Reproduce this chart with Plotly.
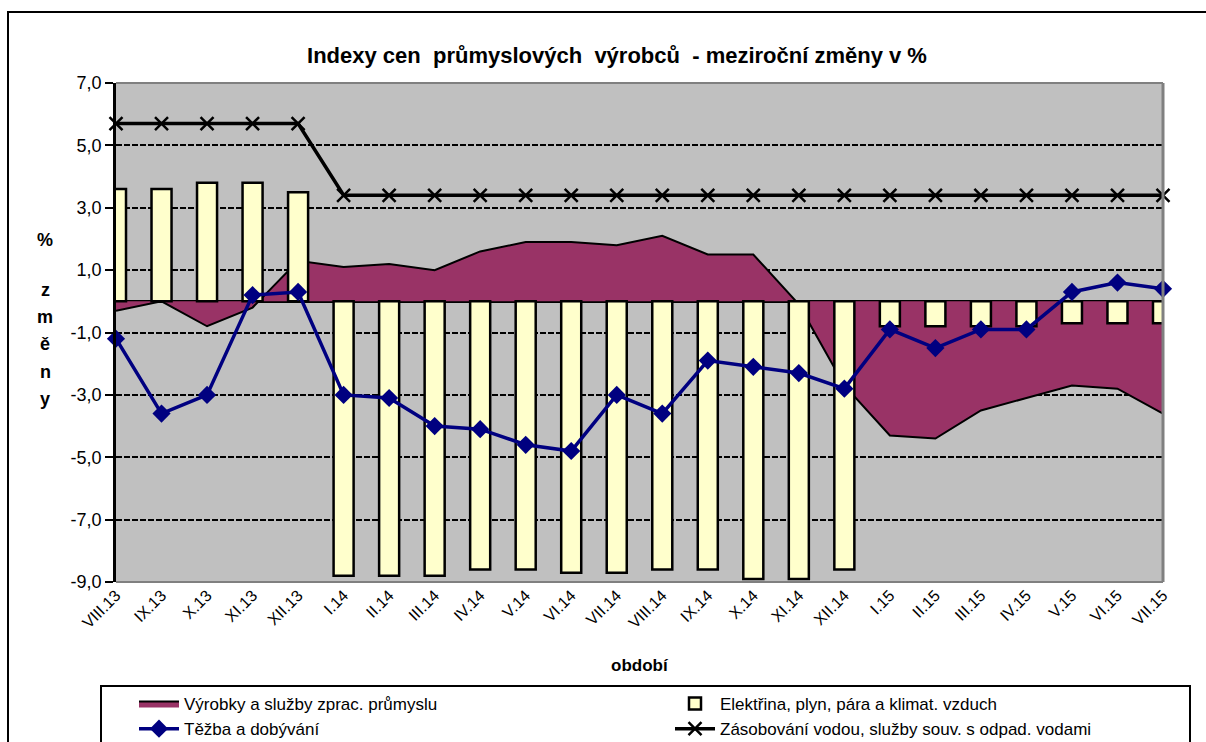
import plotly.graph_objects as go

categories = ["VIII.13", "IX.13", "X.13", "XI.13", "XII.13", "I.14", "II.14", "III.14",
              "IV.14", "V.14", "VI.14", "VII.14", "VIII.14", "IX.14", "X.14", "XI.14",
              "XII.14", "I.15", "II.15", "III.15", "IV.15", "V.15", "VI.15", "VII.15"]
vyrobky = [-0.3, 0.0, -0.8, -0.2, 1.3, 1.1, 1.2, 1.0, 1.6, 1.9, 1.9, 1.8, 2.1, 1.5, 1.5, -0.1,
           -2.7, -4.3, -4.4, -3.5, -3.1, -2.7, -2.8, -3.6]
elektrina = [3.6, 3.6, 3.8, 3.8, 3.5, -8.8, -8.8, -8.8, -8.6, -8.6, -8.7, -8.7, -8.6, -8.6, -8.9,
             -8.9, -8.6, -0.8, -0.8, -0.8, -0.8, -0.7, -0.7, -0.7]
tezba = [-1.2, -3.6, -3.0, 0.2, 0.3, -3.0, -3.1, -4.0, -4.1, -4.6, -4.8, -3.0, -3.6, -1.9, -2.1,
         -2.3, -2.8, -0.9, -1.5, -0.9, -0.9, 0.3, 0.6, 0.4]
voda = [5.7, 5.7, 5.7, 5.7, 5.7, 3.4, 3.4, 3.4, 3.4, 3.4, 3.4, 3.4, 3.4, 3.4, 3.4, 3.4,
        3.4, 3.4, 3.4, 3.4, 3.4, 3.4, 3.4, 3.4]
ytick_vals = [7, 5, 3, 1, -1, -3, -5, -7, -9]
ytick_text = ["7,0", "5,0", "3,0", "1,0", "-1,0", "-3,0", "-5,0", "-7,0", "-9,0"]

names = ["Výrobky a služby zprac. průmyslu", "Elektřina, plyn, pára a klimat. vzduch",
         "Těžba a dobývání", "Zásobování vodou, služby souv. s odpad. vodami"]

W, H = 1206, 742
L, R, T, B = 116, 1163, 83, 582
PW, PH = R - L, B - T


def px(x):
    return (x - L) / PW


def py(y):
    return (B - y) / PH


FONT = "Liberation Sans, Arial, sans-serif"
PURPLE = "#993366"
YELLOW = "#FFFFCC"
NAVY = "#000080"

fig = go.Figure()
fig.add_trace(go.Scatter(x=categories, y=vyrobky, name=names[0], mode="lines",
                         fill="tozeroy", fillcolor=PURPLE,
                         line=dict(color="black", width=2), xaxis="x", yaxis="y",
                         legend="legend"))
fig.add_trace(go.Bar(x=categories, y=elektrina, name=names[1], width=0.44,
                     marker=dict(color=YELLOW, line=dict(color="black", width=2.5)),
                     xaxis="x2", yaxis="y", legend="legend2"))
fig.add_trace(go.Scatter(x=categories, y=tezba, name=names[2], mode="lines+markers",
                         line=dict(color=NAVY, width=3.5),
                         marker=dict(symbol="diamond", size=14, color=NAVY),
                         cliponaxis=False, xaxis="x2", yaxis="y", legend="legend"))
fig.add_trace(go.Scatter(x=categories, y=voda, name=names[3], mode="lines+markers",
                         line=dict(color="black", width=3.5),
                         marker=dict(symbol="x-thin", size=13, color="black",
                                     line=dict(color="black", width=2.5)),
                         cliponaxis=False, xaxis="x2", yaxis="y", legend="legend2"))

shapes = [
    dict(type="line", xref="paper", yref="paper", x0=0, x1=1, y0=1, y1=1,
         line=dict(color="#808080", width=2), layer="above"),
    dict(type="line", xref="paper", yref="paper", x0=1, x1=1, y0=0, y1=1,
         line=dict(color="#808080", width=3), layer="above"),
    dict(type="line", xref="paper", yref="paper", x0=0, x1=1, y0=0, y1=0,
         line=dict(color="#808080", width=2), layer="above"),
    dict(type="rect", xref="paper", yref="paper", x0=px(8), x1=px(1230), y0=py(770), y1=py(12),
         line=dict(color="black", width=2), layer="above"),
    dict(type="rect", xref="paper", yref="paper", x0=px(101), x1=px(1190), y0=py(770), y1=py(686),
         line=dict(color="black", width=2), layer="above"),
]

annotations = [
    dict(text="období", xref="paper", yref="paper", x=px(640), y=py(665), showarrow=False,
         font=dict(family=FONT, size=17, color="black", weight="bold"),
         xanchor="center", yanchor="middle"),
]
for ch, yy in zip(["%", "z", "m", "ě", "n", "y"], [240, 290, 317, 344, 372, 399]):
    annotations.append(dict(text=ch, xref="paper", yref="paper", x=px(45), y=py(yy),
                            showarrow=False, xanchor="center", yanchor="middle",
                            font=dict(family=FONT, size=18, color="black", weight="bold")))

legend_common = dict(orientation="v", yanchor="top", xanchor="left", itemwidth=40,
                     font=dict(family=FONT, size=17, color="black"),
                     bgcolor="rgba(0,0,0,0)", traceorder="normal",
                     xref="container", yref="container")

fig.update_layout(
    width=W, height=H,
    margin=dict(l=L, r=W - R, t=T, b=H - B, autoexpand=False),
    paper_bgcolor="white", plot_bgcolor="#C0C0C0",
    font=dict(family=FONT, color="black"),
    title=dict(text="Indexy cen\u00a0 průmyslových\u00a0 výrobců\u00a0 - meziroční změny v %",
               x=px(617), xref="paper", xanchor="center", y=1 - 55 / H, yanchor="middle",
               font=dict(family=FONT, size=22, color="black", weight="bold")),
    xaxis=dict(type="category", categoryorder="array", categoryarray=categories,
               range=[0, 23], showgrid=False, zeroline=False, showline=False,
               ticks="", tickangle=-45, tickfont=dict(family=FONT, size=16, color="black")),
    xaxis2=dict(type="category", categoryorder="array", categoryarray=categories,
                range=[0, 23], overlaying="x", anchor="y", visible=False),
    yaxis=dict(range=[-9, 7], tickvals=ytick_vals, ticktext=ytick_text,
               showgrid=True, gridcolor="black", gridwidth=2, griddash="6px,2px",
               zeroline=True, zerolinecolor="black", zerolinewidth=2.5,
               showline=True, linecolor="black", linewidth=2.5,
               ticks="outside", ticklen=8, tickwidth=2, tickcolor="black",
               tickfont=dict(family=FONT, size=18, color="black")),
    legend=dict(x=134 / W, y=1 - 686 / H, **legend_common),
    legend2=dict(x=670 / W, y=1 - 686 / H, **legend_common),
    shapes=shapes, annotations=annotations,
    showlegend=True,
)

fig.write_html("out.html", post_script="document.body.style.margin='0';",
               config={"displayModeBar": False})
